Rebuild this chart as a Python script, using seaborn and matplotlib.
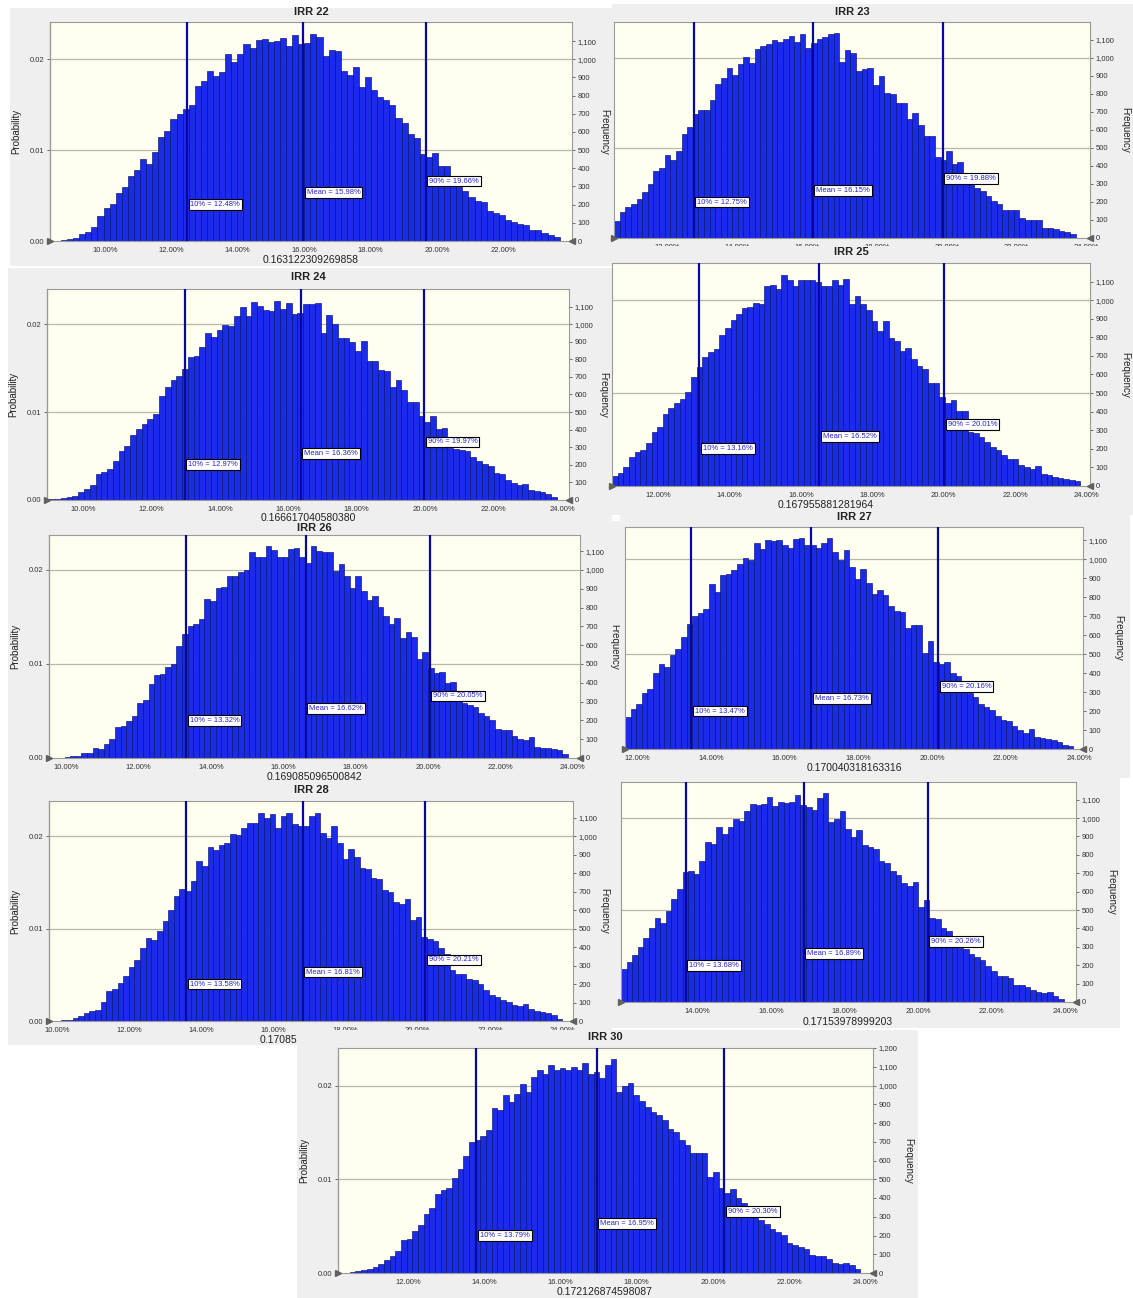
import matplotlib
matplotlib.use("Agg")
import matplotlib.pyplot as plt
import numpy as np
import pandas as pd
import seaborn as sns
from matplotlib.ticker import FuncFormatter

# ---- data (frequency per bin, 50,000 trials) ----
TRIALS = 50000

titles = ["IRR 22", "IRR 23", "IRR 24", "IRR 25", "IRR 26", "IRR 27", "IRR 28", "", "IRR 30"]

freq_irr22 = [7, 13, 18, 40, 50, 77, 136, 180, 206, 262, 295, 357, 390, 450, 424, 492, 570, 603, 673, 698,
              728, 750, 851, 883, 934, 910, 929, 1030, 984, 1030, 1085, 1063, 1106, 1113, 1095, 1100, 1115,
              1073, 1133, 1085, 1091, 1141, 1122, 1017, 1050, 1045, 938, 916, 956, 848, 903, 833, 791, 778,
              750, 676, 649, 588, 566, 477, 464, 483, 415, 415, 335, 298, 276, 243, 219, 216, 166, 155, 142,
              114, 105, 92, 87, 63, 59, 46, 31, 22]
freq_irr23 = [92, 144, 172, 189, 218, 253, 301, 370, 388, 459, 435, 486, 579, 614, 690, 712, 712, 764, 856,
              888, 943, 906, 965, 1004, 974, 1050, 1069, 1076, 1100, 1091, 1106, 1122, 1091, 1132, 1058, 1082,
              1104, 1119, 1133, 1137, 976, 1045, 1026, 928, 937, 943, 851, 900, 804, 799, 749, 749, 662, 693,
              629, 568, 568, 449, 431, 481, 410, 420, 346, 305, 277, 259, 231, 207, 190, 157, 153, 153, 111,
              102, 98, 98, 55, 55, 50, 41, 33, 22]
freq_irr24 = [4, 8, 9, 15, 23, 43, 60, 85, 147, 160, 179, 221, 277, 308, 372, 406, 434, 459, 487, 591, 642,
              685, 708, 745, 815, 821, 872, 947, 925, 968, 994, 987, 1047, 1100, 1044, 1127, 1104, 1081, 1076,
              1132, 1089, 1119, 1057, 1066, 1113, 1113, 1119, 949, 1053, 1000, 921, 919, 900, 849, 902, 789,
              789, 740, 736, 645, 683, 626, 557, 557, 476, 443, 476, 406, 411, 298, 292, 283, 277, 245, 221,
              204, 194, 151, 147, 113, 98, 85, 91, 57, 53, 47, 32, 19]
freq_irr25 = [54, 68, 104, 157, 184, 193, 229, 292, 315, 386, 420, 444, 470, 506, 587, 640, 694, 721, 735,
              810, 852, 891, 923, 959, 962, 986, 977, 1075, 1082, 1061, 1138, 1106, 1075, 1106, 1106, 1106,
              1097, 1075, 1075, 1106, 1079, 1115, 980, 1025, 980, 945, 887, 832, 887, 796, 778, 726, 744, 685,
              644, 628, 555, 555, 479, 447, 462, 404, 404, 292, 286, 265, 238, 211, 193, 166, 143, 143, 113,
              104, 89, 107, 63, 59, 50, 45, 36, 32, 27]
freq_irr26 = [2, 4, 11, 9, 25, 26, 51, 48, 76, 101, 164, 168, 198, 226, 295, 309, 394, 441, 447, 482, 500,
              597, 662, 703, 715, 738, 848, 835, 904, 909, 966, 966, 989, 1001, 1098, 1068, 1068, 1125, 1107,
              1068, 1068, 1113, 1116, 1068, 1038, 1125, 1100, 1098, 1098, 992, 1033, 968, 904, 966, 887, 839,
              860, 804, 756, 715, 745, 636, 671, 645, 526, 565, 477, 450, 459, 401, 403, 309, 291, 283, 270,
              238, 224, 200, 154, 150, 147, 115, 102, 94, 111, 57, 53, 53, 48, 41, 21]
freq_irr27 = [170, 209, 237, 296, 316, 402, 446, 433, 495, 526, 591, 661, 702, 717, 737, 868, 828, 916, 924,
              945, 977, 1007, 998, 1087, 1052, 1100, 1096, 1100, 1073, 1059, 1108, 1112, 1077, 1073, 1059,
              1087, 1114, 1038, 998, 1047, 959, 898, 951, 875, 819, 840, 810, 752, 728, 723, 640, 652, 656,
              507, 568, 460, 447, 456, 398, 386, 331, 296, 272, 237, 219, 205, 175, 153, 149, 121, 100, 86,
              103, 65, 56, 51, 47, 35, 21, 16]
freq_irr28 = [4, 7, 18, 25, 43, 52, 61, 102, 162, 171, 207, 241, 291, 331, 395, 449, 438, 489, 539, 602, 677,
              713, 701, 758, 866, 839, 943, 924, 951, 965, 1013, 1006, 1046, 1073, 1073, 1123, 1096, 1118,
              1046, 1109, 1127, 1067, 1055, 1055, 1109, 1127, 1019, 992, 1055, 965, 875, 929, 888, 827, 821,
              773, 767, 710, 699, 645, 633, 660, 546, 561, 456, 444, 435, 395, 363, 277, 255, 252, 228, 223,
              198, 165, 138, 129, 115, 102, 88, 81, 90, 63, 54, 49, 45, 31, 13]
freq_irr29 = [181, 220, 256, 298, 347, 405, 455, 432, 495, 558, 612, 708, 712, 695, 766, 870, 861, 952, 912,
              952, 997, 984, 1037, 1078, 1073, 1078, 1114, 1064, 1087, 1084, 1087, 1127, 1073, 1060, 1046,
              1111, 1138, 979, 997, 1037, 943, 898, 934, 856, 843, 834, 766, 758, 713, 690, 645, 630, 650,
              515, 554, 459, 450, 405, 386, 334, 293, 289, 260, 242, 229, 197, 170, 144, 139, 130, 94, 90, 81,
              67, 52, 49, 52, 34, 18]
freq_irr30 = [5, 9, 18, 23, 32, 50, 68, 91, 116, 175, 184, 223, 255, 314, 348, 419, 442, 451, 505, 555, 624,
              701, 710, 731, 763, 879, 867, 947, 911, 954, 1007, 968, 1043, 1084, 1061, 1111, 1081, 1093, 1084,
              1098, 1081, 1120, 1061, 1070, 1040, 1111, 1141, 968, 995, 1013, 950, 915, 883, 858, 843, 817,
              767, 754, 710, 683, 638, 638, 638, 514, 540, 455, 428, 448, 398, 371, 314, 305, 282, 259, 237,
              219, 201, 162, 148, 139, 127, 98, 91, 91, 77, 53, 46, 53, 41, 20]

# histogram bin span (IRR %) of each chart
bin_ranges = [(8.68, 23.70), (10.46, 23.69), (9.02, 23.85), (10.71, 23.83), (9.81, 23.86),
              (11.67, 23.84), (10.12, 24.00), (11.92, 23.97), (10.48, 23.87)]

# 10th percentile, mean, 90th percentile (IRR %)
p10_values = [12.48, 12.75, 12.97, 13.16, 13.32, 13.47, 13.58, 13.68, 13.79]
mean_values = [15.98, 16.15, 16.36, 16.52, 16.62, 16.73, 16.81, 16.89, 16.95]
p90_values = [19.66, 19.88, 19.97, 20.01, 20.05, 20.16, 20.21, 20.26, 20.30]

mean_labels = ["0.163122309269858", "", "0.166617040580380", "0.167955881281964", "0.169085096500842",
               "0.170040318163316", "0.17085", "0.17153978999203", "0.172126874598087"]

all_freqs = [freq_irr22, freq_irr23, freq_irr24, freq_irr25, freq_irr26,
             freq_irr27, freq_irr28, freq_irr29, freq_irr30]

# ---- layout (pixels in the 1133 x 1298 collage) ----
W, H = 1133, 1298
layout = [
    # bg box, plot box, x-limits, y max, left axis, x ticks, title y, xlabel (x, y, ha), ylabel offset
    dict(bg=(10, 8, 612, 266), box=(50, 22, 572, 241), xlim=(8.35, 24.07), ymax=1205, left=True,
         xticks=[10, 12, 14, 16, 18, 20, 22], ty=12, xl=(311, 260, "center"), fr=32),
    dict(bg=(612, 4, 1133, 250), box=(614, 22, 1090, 238), xlim=(10.46, 24.1), ymax=1200, left=False,
         xticks=[12, 14, 16, 18, 20, 22, 24], ty=12, xl=(852, 258, "center"), fr=35),
    dict(bg=(8, 268, 612, 521), box=(47, 289, 569, 500), xlim=(8.95, 24.2), ymax=1200, left=True,
         xticks=[10, 12, 14, 16, 18, 20, 22, 24], ty=277, xl=(308, 518, "center"), fr=34),
    dict(bg=(612, 246, 1133, 515), box=(612, 263, 1090, 486), xlim=(10.71, 24.1), ymax=1200, left=False,
         xticks=[12, 14, 16, 18, 20, 22, 24], ty=252, xl=(826, 505, "center"), fr=35),
    dict(bg=(8, 521, 620, 785), box=(49, 535, 580, 758), xlim=(9.53, 24.2), ymax=1186, left=True,
         xticks=[10, 12, 14, 16, 18, 20, 22, 24], ty=528, xl=(314, 777, "center"), fr=34),
    dict(bg=(620, 512, 1130, 778), box=(625, 527, 1083, 749), xlim=(11.67, 24.1), ymax=1170, left=False,
         xticks=[12, 14, 16, 18, 20, 22, 24], ty=517, xl=(854, 768, "center"), fr=35),
    dict(bg=(8, 785, 612, 1045), box=(49, 801, 573, 1021), xlim=(9.78, 24.3), ymax=1190, left=True,
         xticks=[10, 12, 14, 16, 18, 20, 22, 24], ty=790, xl=(297, 1040, "right"), fr=31),
    dict(bg=(612, 778, 1120, 1028), box=(621, 782, 1076, 1002), xlim=(11.92, 24.3), ymax=1196, left=False,
         xticks=[14, 16, 18, 20, 22, 24], ty=None, xl=(848, 1022, "center"), fr=35),
    dict(bg=(297, 1030, 918, 1298), box=(338, 1048, 873, 1273), xlim=(10.17, 24.2), ymax=1200, left=True,
         xticks=[12, 14, 16, 18, 20, 22, 24], ty=1037, xl=(605, 1292, "center"), fr=35),
]

BAR_COLOR = "#1B2CE8"
BAR_EDGE = "#0B0B78"
LINE_COLOR = "#08089A"
PLOT_BG = "#FFFFF0"
PANEL_BG = "#EFEFEF"


def fx(x):
    return x / W


def fy(y):
    return 1 - y / H


def rect(box):
    l, t, r, b = box
    return [l / W, 1 - b / H, (r - l) / W, (b - t) / H]


def draw_panel(fig, i):
    lay = layout[i]
    freq = all_freqs[i]
    lo, hi = bin_ranges[i]
    z = 2 * i + 1

    # grey panel background (own axes so later panels cover earlier ones)
    bg = fig.add_axes(rect(lay["bg"]), zorder=z)
    bg.set_facecolor(PANEL_BG)
    bg.set_xticks([])
    bg.set_yticks([])
    for s in bg.spines.values():
        s.set_visible(False)

    ax = fig.add_axes(rect(lay["box"]), zorder=z + 1)
    ax.set_facecolor(PLOT_BG)

    edges = np.linspace(lo, hi, len(freq) + 1)
    df = pd.DataFrame({"irr": (edges[:-1] + edges[1:]) / 2, "freq": freq})
    sns.histplot(data=df, x="irr", weights="freq", bins=list(edges), ax=ax, color=BAR_COLOR,
                 edgecolor=BAR_EDGE, linewidth=0.45, alpha=1.0, zorder=2)

    ax.set_xlim(*lay["xlim"])
    ax.set_ylim(0, lay["ymax"])
    for g in (500, 1000):
        ax.axhline(g, color="#B8B8A8", lw=0.9, zorder=1)

    # percentile / mean markers
    marks = [(p10_values[i], f"10% = {p10_values[i]:.2f}%", 200),
             (mean_values[i], f"Mean = {mean_values[i]:.2f}%", 265),
             (p90_values[i], f"90% = {p90_values[i]:.2f}%", 330)]
    for v, txt, yh in marks:
        ax.axvline(v, color=LINE_COLOR, lw=1.6, zorder=3)
        ax.text(v + 0.1, yh, txt, fontsize=5.5, color="#2424C8", va="center", ha="left", zorder=5,
                bbox=dict(boxstyle="square,pad=0.25", fc="white", ec="black", lw=0.8))

    # right frequency axis
    top = 1300 if i == 8 else 1200
    ax.yaxis.tick_right()
    ax.set_yticks(np.arange(0, top, 100))
    ax.yaxis.set_major_formatter(FuncFormatter(lambda v, p: f"{int(v):,}"))
    ax.set_xticks(lay["xticks"])
    ax.xaxis.set_major_formatter(FuncFormatter(lambda v, p: f"{v:.2f}%"))
    ax.tick_params(axis="both", labelsize=5.5, length=2, width=0.6, colors="#555555",
                   labelcolor="#333333", pad=2)
    ax.set_xlabel("")
    ax.set_ylabel("")
    for s in ax.spines.values():
        s.set_color("#9A9A9A")
        s.set_linewidth(0.8)

    # range grabbers at the ends of the axis
    x0, x1 = lay["xlim"]
    ax.plot([x0], [0], marker=">", color="#606060", ms=5, clip_on=False, zorder=6)
    ax.plot([x1], [0], marker="<", color="#606060", ms=5, clip_on=False, zorder=6)

    l, t, r, b = lay["box"]
    mid = (t + b) / 2
    if lay["left"]:
        sec = ax.secondary_yaxis("left", functions=(lambda f: f / TRIALS, lambda p: p * TRIALS))
        sec.set_yticks([0, 0.01, 0.02])
        sec.yaxis.set_major_formatter(FuncFormatter(lambda v, p: f"{v:.2f}"))
        sec.tick_params(labelsize=5.5, length=2, width=0.6, colors="#555555", labelcolor="#333333", pad=2)
        bg.text(fx(l - 34), fy(mid), "Probability", transform=fig.transFigure, rotation=90,
                fontsize=7, ha="center", va="center", color="#222222")
    bg.text(fx(r + lay["fr"]), fy(mid), "Frequency", transform=fig.transFigure, rotation=-90,
            fontsize=7, ha="center", va="center", color="#222222")

    if lay["ty"] is not None and titles[i]:
        bg.text(fx((l + r) / 2), fy(lay["ty"]), titles[i], transform=fig.transFigure,
                fontsize=8, fontweight="bold", ha="center", va="center", color="#222222")
    xlx, xly, xha = lay["xl"]
    if mean_labels[i]:
        bg.text(fx(xlx), fy(xly), mean_labels[i], transform=fig.transFigure,
                fontsize=7.5, ha=xha, va="center", color="#222222")


def draw_collage():
    sns.set_style("white")
    plt.rcParams["font.family"] = ["Liberation Sans", "DejaVu Sans"]
    fig = plt.figure(figsize=(W / 100, H / 100), dpi=100)
    fig.patch.set_facecolor("white")
    for i in range(len(all_freqs)):
        draw_panel(fig, i)
    fig.savefig("out.png", dpi=100, facecolor="white")


if __name__ == "__main__":
    draw_collage()
